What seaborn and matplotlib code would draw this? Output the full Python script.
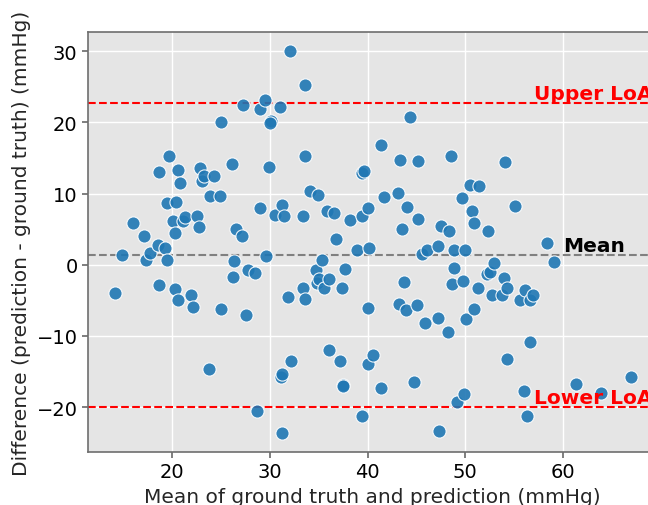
import numpy as np
import pandas as pd
import matplotlib
matplotlib.use("Agg")
import matplotlib.pyplot as plt
import seaborn as sns

# mean of ground truth and prediction (mmHg)
mean_values = [
    14.1, 14.8, 16.0, 17.1, 17.3, 17.75, 18.5, 18.6, 18.6, 19.2,
    19.4, 19.4, 19.6, 20.1, 20.3, 20.3, 20.4, 20.6, 20.6, 20.8,
    21.1, 21.3, 21.9, 22.1, 22.5, 22.7, 22.8, 23.0, 23.2, 23.7,
    23.9, 24.3, 24.9, 25.0, 25.0, 26.1, 26.2, 26.3, 26.5, 27.1,
    27.2, 27.5, 27.7, 28.5, 28.7, 29.0, 29.0, 29.5, 29.6, 29.9,
    30.05, 30.0, 30.5, 31.0, 31.1, 31.2, 31.2, 31.2, 31.4, 31.8,
    32.0, 32.2, 33.4, 33.4, 33.6, 33.6, 33.6, 34.1, 34.7, 34.8,
    34.9, 35.0, 35.3, 35.5, 35.8, 36.0, 36.0, 36.6, 36.8, 37.2,
    37.4, 37.5, 37.5, 37.7, 38.2, 38.9, 39.4, 39.6, 39.4, 39.4,
    40.0, 40.0, 40.0, 40.1, 40.6, 41.4, 41.4, 41.7, 43.1, 43.2,
    43.3, 43.5, 43.75, 43.9, 44.06, 44.3, 44.75, 45.1, 45.2, 45.2,
    45.6, 45.9, 46.1, 47.2, 47.2, 47.3, 47.5, 48.2, 48.3, 48.5,
    48.6, 48.8, 48.9, 49.2, 49.7, 49.8, 49.9, 50.0, 50.1, 50.5,
    50.7, 50.9, 50.95, 51.3, 51.4, 52.2, 52.5, 52.3, 52.75, 53.0,
    53.8, 54.0, 54.1, 54.3, 54.3, 55.1, 55.6, 56.05, 56.1, 56.3,
    56.6, 56.6, 56.9, 58.4, 59.1, 61.4, 63.9, 67.0,
]

# difference (prediction - ground truth) (mmHg)
diff_values = [
    -4.0, 1.4, 5.9, 4.1, 0.6, 1.6, 2.8, 13.05, -2.9, 2.3,
    0.6, 8.7, 15.2, 6.1, 4.5, -3.4, 8.8, 13.3, -5.0, 11.5,
    6.2, 6.7, -4.2, -5.9, 6.8, 5.3, 13.6, 11.8, 12.5, -14.7,
    9.7, 12.4, 9.7, 20.0, -6.2, 14.1, -1.7, 0.5, 5.0, 4.1,
    22.4, -7.0, -0.7, -1.2, -20.6, 21.8, 7.9, 23.1, 1.2, 13.7,
    20.2, 19.9, 7.0, 22.1, -15.8, -15.4, 8.4, -23.6, 6.8, -4.5,
    30.0, -13.5, 6.9, -3.3, 25.3, 15.2, -4.8, 10.3, -0.8, -2.5,
    9.8, -2.0, 0.6, -3.2, 7.5, -2.0, -12.0, 7.2, 3.6, -13.5,
    -3.2, -16.9, -17.1, -0.65, 6.3, 2.1, 12.9, 13.2, 6.85, -21.3,
    7.9, -6.1, -14.0, 2.3, -12.7, 16.8, -17.25, 9.55, 10.1, -5.5,
    14.7, 5.0, -2.4, -6.3, 8.1, 20.7, -16.5, -5.7, 14.5, 6.4,
    1.5, -8.2, 2.1, 2.6, -7.5, -23.4, 5.4, -9.5, 4.75, 15.2,
    -2.7, -0.4, 2.0, -19.3, 9.4, -2.3, -18.1, 2.1, -7.6, 11.2,
    7.5, -6.2, 5.9, -3.3, 11.0, -1.3, -1.0, 4.8, -4.3, 0.24,
    -4.3, -1.9, 14.4, -3.3, -13.3, 8.3, -4.9, -17.8, -3.6, -21.2,
    -4.9, -10.8, -4.2, 3.0, 0.37, -16.8, -18.0, -15.8,
]

MEAN_DIFF = 1.35
UPPER_LOA = 22.66
LOWER_LOA = -20.04

df = pd.DataFrame({"mean": mean_values, "diff": diff_values})

sns.set_theme(style="darkgrid", rc={
    "axes.facecolor": "#E5E5E5",
    "axes.edgecolor": "#6E6E6E",
    "axes.linewidth": 1.2,
    "grid.color": "white",
    "grid.linewidth": 1.0,
    "xtick.bottom": True,
    "ytick.left": True,
    "xtick.color": "#6E6E6E",
    "ytick.color": "#6E6E6E",
    "xtick.labelcolor": "black",
    "ytick.labelcolor": "black",
})
plt.rcParams["font.family"] = ["DejaVu Sans"]

fig = plt.figure(figsize=(6.48, 5.06), dpi=100)
# axes run past the right edge, like the cropped reference
ax = fig.add_axes([88 / 648, 53 / 506, 569 / 648, 420 / 506])

sns.scatterplot(data=df, x="mean", y="diff", ax=ax, s=90, color="#1f77b4",
                alpha=0.9, edgecolor="white", linewidth=0.8, zorder=3)

ax.axhline(MEAN_DIFF, color="gray", linestyle="--", linewidth=1.5, zorder=2)
ax.axhline(UPPER_LOA, color="red", linestyle="--", linewidth=1.5, zorder=2)
ax.axhline(LOWER_LOA, color="red", linestyle="--", linewidth=1.5, zorder=2)

ax.text(57, UPPER_LOA, "Upper LoA", color="red", fontsize=14.5,
        fontweight="bold", va="bottom")
ax.text(60, MEAN_DIFF, "Mean", color="black", fontsize=14.5,
        fontweight="bold", va="bottom")
ax.text(57, LOWER_LOA, "Lower LoA", color="red", fontsize=14.5,
        fontweight="bold", va="bottom")

ax.set_xlim(11.35, 69.65)
ax.set_ylim(-26.3, 32.68)
ax.set_xticks([20, 30, 40, 50, 60])
ax.set_yticks([-20, -10, 0, 10, 20, 30])
ax.tick_params(labelsize=14, length=4)
ax.set_xlabel("Mean of ground truth and prediction (mmHg)", fontsize=14.5)
ax.set_ylabel("Difference (prediction - ground truth) (mmHg)", fontsize=14.5)
for side in ["left", "top", "bottom", "right"]:
    ax.spines[side].set_visible(True)

fig.savefig("out.png", dpi=100)
